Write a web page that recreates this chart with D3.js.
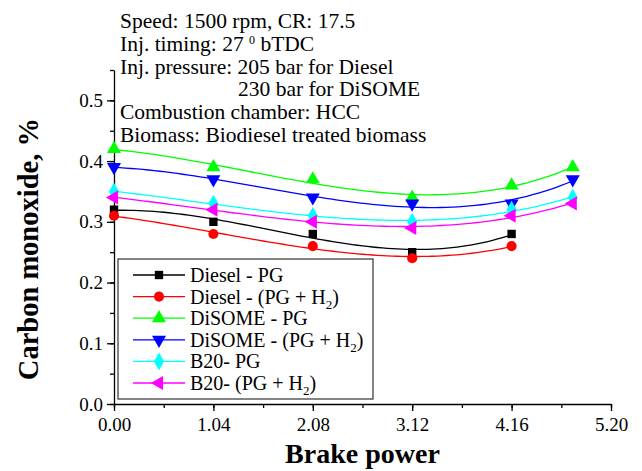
<!DOCTYPE html>
<meta charset="utf-8">
<script src="https://d3js.org/d3.v7.min.js"></script>
<style>
  body { margin: 0; background: #fff; }
  text { font-family: "Liberation Serif", "Times New Roman", serif; }
</style>
<div id="my_dataviz"></div>
<script>

// brake power values
var powerA = [0.00, 1.04, 2.08, 3.12, 4.16];
var powerB = [0.00, 1.04, 2.08, 3.12, 4.16, 4.80];

// CO, % for each fuel / gas combination
var dieselPG   = [0.32, 0.30, 0.28, 0.25, 0.28];
var dieselPGH2 = [0.31, 0.28, 0.26, 0.24, 0.26];
var disomePG   = [0.42, 0.39, 0.37, 0.34, 0.36, 0.39];
var disomePGH2 = [0.39, 0.37, 0.34, 0.33, 0.33, 0.37];
var b20PG      = [0.35, 0.33, 0.31, 0.30, 0.32, 0.34];
var b20PGH2    = [0.34, 0.32, 0.30, 0.29, 0.31, 0.33];

var seriesNames = ["Diesel - PG", "Diesel - (PG + H2)", "DiSOME - PG",
                   "DiSOME - (PG + H2)", "B20- PG", "B20- (PG + H2)"];

var xTicks = [0.00, 1.04, 2.08, 3.12, 4.16, 5.20];
var yTicks = [0.0, 0.1, 0.2, 0.3, 0.4, 0.5];

var notes = ["Speed: 1500 rpm, CR: 17.5",
             "Inj. timing: 27 |0| bTDC",
             "Inj. pressure: 205 bar for Diesel",
             "230 bar for DiSOME",
             "Combustion chamber: HCC",
             "Biomass: Biodiesel treated biomass"];

var series = [
  {name: seriesNames[0], xs: powerA, ys: dieselPG,   color: "#000000", sym: d3.symbolSquare,   size: 70,  rot: 0},
  {name: seriesNames[1], xs: powerA, ys: dieselPGH2, color: "#ff0000", sym: d3.symbolCircle,   size: 80,  rot: 0},
  {name: seriesNames[2], xs: powerB, ys: disomePG,   color: "#00ff00", sym: d3.symbolTriangle, size: 85,  rot: 0},
  {name: seriesNames[3], xs: powerB, ys: disomePGH2, color: "#0000ff", sym: d3.symbolTriangle, size: 85,  rot: 180},
  {name: seriesNames[4], xs: powerB, ys: b20PG,      color: "#00ffff", sym: d3.symbolDiamond,  size: 90,  rot: 0},
  {name: seriesNames[5], xs: powerB, ys: b20PGH2,    color: "#ff00ff", sym: d3.symbolTriangle, size: 85,  rot: -90}
];

var margin = {top: 70, right: 31, bottom: 67, left: 114},
    width = 642 - margin.left - margin.right,
    height = 471 - margin.top - margin.bottom;

var svg = d3.select("#my_dataviz")
  .append("svg")
    .attr("width", 642)
    .attr("height", 471)
  .append("g")
    .attr("transform", "translate(" + margin.left + "," + margin.top + ")");

var x = d3.scaleLinear().domain([0, 5.2]).range([0, width]);
var y = d3.scaleLinear().domain([0, 0.55]).range([height, 0]);

// minor ticks
var xMinor = d3.range(0, 11).map(function(i) { return i * 0.52; });
var yMinor = d3.range(0, 12).map(function(i) { return i * 0.05; });

svg.append("g")
  .attr("transform", "translate(0," + height + ")")
  .call(d3.axisBottom(x).tickValues(xMinor).tickSize(4).tickFormat(""))
  .call(function(g) { g.select(".domain").remove(); });

svg.append("g")
  .call(d3.axisLeft(y).tickValues(yMinor).tickSize(4).tickFormat(""))
  .call(function(g) { g.select(".domain").remove(); });

var xAxis = svg.append("g")
  .attr("transform", "translate(0," + height + ")")
  .call(d3.axisBottom(x).tickValues(xTicks).tickSize(7).tickSizeOuter(0).tickFormat(d3.format(".2f")));
xAxis.selectAll("text").attr("font-size", 19).attr("dy", "0.9em").attr("fill", "#000");

var yAxis = svg.append("g")
  .call(d3.axisLeft(y).tickValues(yTicks).tickSize(7).tickSizeOuter(0).tickFormat(d3.format(".1f")));
yAxis.selectAll("text").attr("font-size", 19).attr("x", -11).attr("fill", "#000");

svg.selectAll(".domain, .tick line").attr("stroke", "#000").attr("stroke-width", 1.3);

// cubic least squares fit through the points of a series
function fit(xs, ys, deg) {
  var m = deg + 1, A = [];
  for (var r = 0; r < m; r++) {
    A.push([]);
    for (var c = 0; c <= m; c++) A[r].push(0);
  }
  xs.forEach(function(xv, i) {
    for (var r = 0; r < m; r++) {
      for (var c = 0; c < m; c++) A[r][c] += Math.pow(xv, r + c);
      A[r][m] += ys[i] * Math.pow(xv, r);
    }
  });
  for (var c = 0; c < m; c++) {
    for (var r = c + 1; r < m; r++) {
      var f = A[r][c] / A[c][c];
      for (var j = c; j <= m; j++) A[r][j] -= f * A[c][j];
    }
  }
  var b = [];
  for (var r2 = m - 1; r2 >= 0; r2--) {
    var v = A[r2][m];
    for (var j2 = r2 + 1; j2 < m; j2++) v -= A[r2][j2] * b[j2];
    b[r2] = v / A[r2][r2];
  }
  var x0 = xs[0], x1 = xs[xs.length - 1];
  return d3.range(0, 81).map(function(i) {
    var xv = x0 + (x1 - x0) * i / 80, yv = 0;
    for (var k = 0; k < m; k++) yv += b[k] * Math.pow(xv, k);
    return [xv, yv];
  });
}

var line = d3.line()
  .x(function(d) { return x(d[0]); })
  .y(function(d) { return y(d[1]); });

series.forEach(function(s) {
  svg.append("path")
    .datum(fit(s.xs, s.ys, 3))
    .attr("d", line)
    .attr("stroke", s.color)
    .attr("stroke-width", 1.3)
    .attr("fill", "none");
});

series.forEach(function(s) {
  svg.selectAll(null)
    .data(s.xs.map(function(v, i) { return [v, s.ys[i]]; }))
    .enter()
    .append("path")
      .attr("d", d3.symbol().type(s.sym).size(s.size))
      .attr("transform", function(d) { return "translate(" + x(d[0]) + "," + y(d[1]) + ") rotate(" + s.rot + ")"; })
      .attr("fill", s.color);
});

// annotation block
var noteX = [6, 6, 6, 124, 6, 6];
var note = svg.append("g");
notes.forEach(function(t, i) {
  var tx = note.append("text")
    .attr("x", noteX[i])
    .attr("y", -42 + i * 22.8)
    .attr("font-size", 21.5)
    .attr("fill", "#000");
  if (t.indexOf("|") >= 0) {
    var parts = t.split("|");
    tx.append("tspan").text(parts[0]);
    tx.append("tspan").attr("font-size", 12).attr("dy", -7).text(parts[1]);
    tx.append("tspan").attr("dy", 7).text(parts[2]);
  } else {
    tx.text(t);
  }
});

// legend
var legend = svg.append("g").attr("transform", "translate(4," + (259 - margin.top) + ")");
legend.append("rect")
  .attr("x", 0).attr("y", 0)
  .attr("width", 255).attr("height", 140)
  .attr("fill", "#fff")
  .attr("stroke", "#333")
  .attr("stroke-width", 1.2);

series.forEach(function(s, i) {
  var row = legend.append("g").attr("transform", "translate(0," + (16 + i * 21.6) + ")");
  row.append("line")
    .attr("x1", 15).attr("x2", 67)
    .attr("stroke", s.color).attr("stroke-width", 1.3);
  row.append("path")
    .attr("d", d3.symbol().type(s.sym).size(s.size))
    .attr("transform", "translate(41,0) rotate(" + s.rot + ")")
    .attr("fill", s.color);
  var tx = row.append("text")
    .attr("x", 72)
    .attr("y", 7)
    .attr("font-size", 20)
    .attr("fill", "#000");
  if (s.name.indexOf("H2") >= 0) {
    var p = s.name.split("H2");
    tx.append("tspan").text(p[0] + "H");
    tx.append("tspan").attr("font-size", 13).attr("dy", 5).text("2");
    tx.append("tspan").attr("dy", -5).text(p[1]);
  } else {
    tx.text(s.name);
  }
});

// axis titles
svg.append("text")
  .attr("x", width / 2)
  .attr("y", height + 59)
  .attr("text-anchor", "middle")
  .attr("font-size", 28)
  .attr("font-weight", "bold")
  .text("Brake power");

svg.append("text")
  .attr("transform", "translate(-76," + (y(0.255)) + ") rotate(-90)")
  .attr("text-anchor", "middle")
  .attr("font-size", 28.5)
  .attr("font-weight", "bold")
  .text("Carbon monoxide, %");

</script>
